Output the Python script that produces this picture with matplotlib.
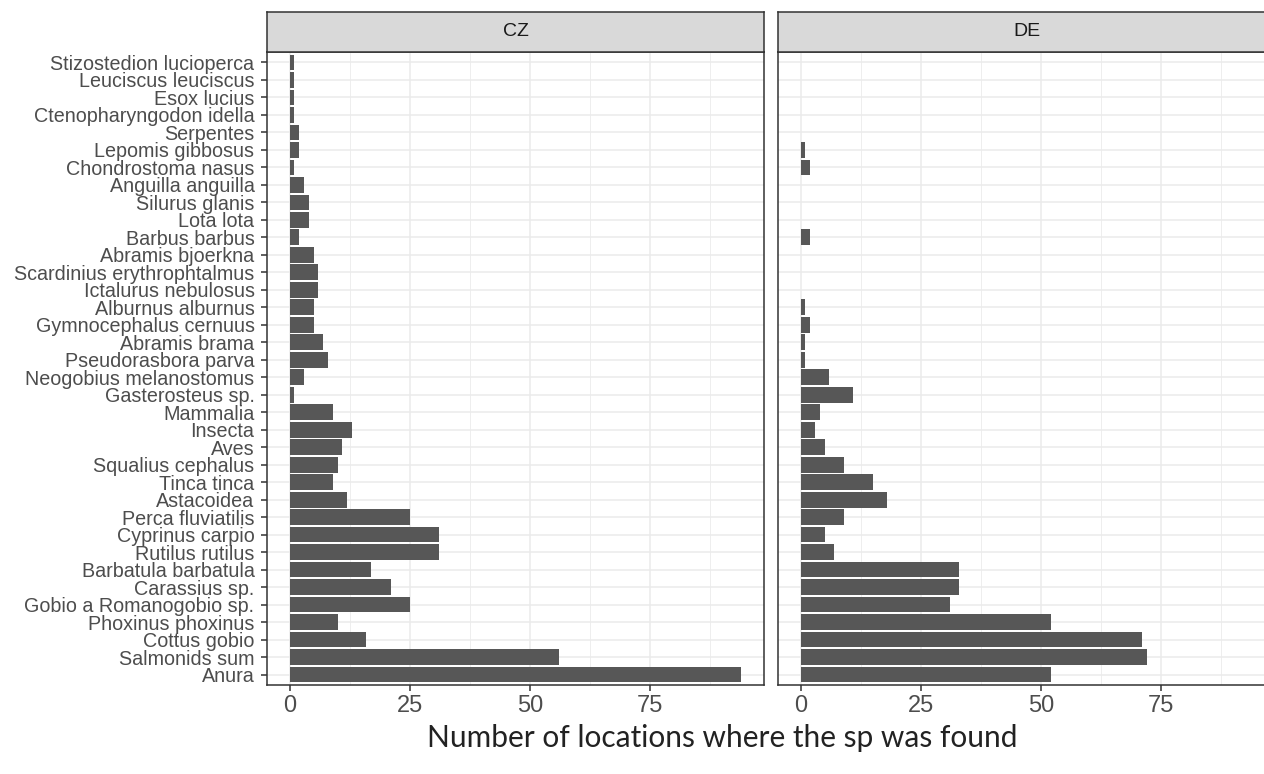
import matplotlib
matplotlib.use("Agg")
import matplotlib.pyplot as plt
import numpy as np

# species, top to bottom as in the picture
species = ["Stizostedion lucioperca", "Leuciscus leuciscus", "Esox lucius",
           "Ctenopharyngodon idella", "Serpentes", "Lepomis gibbosus",
           "Chondrostoma nasus", "Anguilla anguilla", "Silurus glanis",
           "Lota lota", "Barbus barbus", "Abramis bjoerkna",
           "Scardinius erythrophtalmus", "Ictalurus nebulosus",
           "Alburnus alburnus", "Gymnocephalus cernuus", "Abramis brama",
           "Pseudorasbora parva", "Neogobius melanostomus", "Gasterosteus sp.",
           "Mammalia", "Insecta", "Aves", "Squalius cephalus", "Tinca tinca",
           "Astacoidea", "Perca fluviatilis", "Cyprinus carpio",
           "Rutilus rutilus", "Barbatula barbatula", "Carassius sp.",
           "Gobio a Romanogobio sp.", "Phoxinus phoxinus", "Cottus gobio",
           "Salmonids sum", "Anura"]

cz = [1, 1, 1, 1, 2, 2, 1, 3, 4, 4, 2, 5, 6, 6, 5, 5, 7, 8, 3, 1,
      9, 13, 11, 10, 9, 12, 25, 31, 31, 17, 21, 25, 10, 16, 56, 94]
de = [0, 0, 0, 0, 0, 1, 2, 0, 0, 0, 2, 0, 0, 0, 1, 2, 1, 1, 6, 11,
      4, 3, 5, 9, 15, 18, 9, 5, 7, 33, 33, 31, 52, 71, 72, 52]

panels = ["CZ", "DE"]
values = [cz, de]
xticks = [0, 25, 50, 75]

W, H = 1264, 774
fig = plt.figure(figsize=(W / 100, H / 100), dpi=100)

n = len(species)
ypos = np.arange(n)[::-1]
xmax = max(max(cz), max(de))
xlim = (-0.05 * xmax, xmax * 1.05)

lefts = [267, 778]
pw = 497
top, bottom = 52, 685
strip_top = 12

for i, (name, vals) in enumerate(zip(panels, values)):
    ax = fig.add_axes([lefts[i] / W, 1 - bottom / H, pw / W, (bottom - top) / H])
    ax.barh(ypos, vals, height=0.9, color="#575757", zorder=3)
    ax.set_xlim(xlim)
    ax.set_ylim(-0.6, n - 0.4)
    ax.set_xticks(xticks)
    ax.set_xticks([12.5, 37.5, 62.5, 87.5], minor=True)
    ax.set_yticks(ypos)
    ax.grid(True, which="major", color="#EBEBEB", lw=1.1, zorder=0)
    ax.grid(True, which="minor", axis="x", color="#EBEBEB", lw=0.6, zorder=0)
    ax.tick_params(axis="x", which="major", length=4, width=1.1, color="#333333",
                   labelsize=17, labelcolor="#4D4D4D", pad=3)
    ax.tick_params(axis="x", which="minor", length=0)
    ax.tick_params(axis="y", length=4, width=1.1, color="#333333",
                   labelsize=14.2, labelcolor="#4D4D4D", pad=5)
    if i == 0:
        ax.set_yticklabels(species, fontfamily="Liberation Sans")
        for lab in ax.get_yticklabels():
            lab.set_verticalalignment("center_baseline")
    else:
        ax.set_yticklabels([])
        ax.tick_params(axis="y", length=0)
    for lab in ax.get_xticklabels():
        lab.set_fontfamily("Liberation Sans")
    for s in ax.spines.values():
        s.set_color("#333333")
        s.set_linewidth(1.1)

    sax = fig.add_axes([lefts[i] / W, 1 - top / H, pw / W, (top - strip_top) / H])
    sax.set_facecolor("#D9D9D9")
    sax.set_xticks([])
    sax.set_yticks([])
    for s in sax.spines.values():
        s.set_color("#333333")
        s.set_linewidth(1.1)
    sax.text(0.5, 0.5, name, ha="center", va="center", fontsize=14,
             color="#1A1A1A", fontfamily="Liberation Sans", transform=sax.transAxes)

fig.text(722 / W, 1 - 738 / H, "Number of locations where the sp was found",
         ha="center", va="center", fontsize=21.5, color="#222222", fontfamily="Lato")

fig.savefig("out.png", dpi=100)
